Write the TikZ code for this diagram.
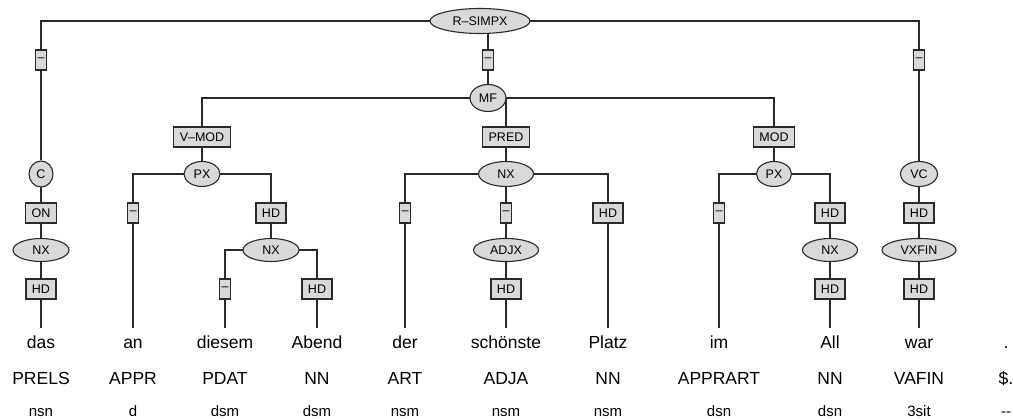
\documentclass[tikz,border=0pt]{standalone}
\usepackage{fontspec}
\setmainfont{Liberation Sans}
\usetikzlibrary{shapes.geometric, backgrounds}
\definecolor{nodegray}{HTML}{D9D9D9}
\definecolor{linegray}{HTML}{2A2A2A}

\begin{document}
\begin{tikzpicture}[x=1pt, y=-1pt,
  cat/.style={ellipse, draw=linegray, fill=nodegray, line width=1.1pt, inner sep=0pt,
    minimum height=25pt, font=\fontsize{12.5}{13}\selectfont},
  fun/.style={rectangle, draw=linegray, fill=nodegray, line width=1.1pt, inner xsep=6pt,
    inner ysep=0pt, minimum height=20pt, font=\fontsize{12.5}{13}\selectfont},
  nolab/.style={fun, inner xsep=2pt},
  word/.style={anchor=base, inner ysep=8pt, text height=12.5pt, font=\fontsize{17.5}{20}\selectfont},
  postag/.style={anchor=base, font=\fontsize{17.5}{20}\selectfont},
  morph/.style={anchor=base, font=\fontsize{15}{17}\selectfont}]
  \useasboundingbox (0,0) rectangle (1013,419);

  % Terminals
  \foreach \x/\w/\p/\m [count=\i] in {
    41/das/PRELS/nsn, 133/an/APPR/d, 225/diesem/PDAT/dsm, 317/Abend/NN/dsm,
    405/der/ART/nsm, 506/schönste/ADJA/nsm, 608/Platz/NN/nsm,
    719/im/APPRART/dsn, 830/All/NN/dsn, 919/war/VAFIN/3sit, 1006/./\$./{-}{-}} {
    \node[word] (w\i) at (\x, 349) {\w};
    \node[postag] (p\i) at (\x, 385) {\p};
    \node[morph] (m\i) at (\x, 417) {\m};
  }

  % Categories
  \node[cat, minimum width=100pt] (rsimpx) at (480, 21) {R–SIMPX};
  \node[cat, minimum width=36pt, minimum height=27pt] (mf) at (488, 98) {MF};
  \node[cat, minimum width=24pt, minimum height=26pt] (c) at (41, 174) {C};
  \node[cat, minimum width=36pt] (pxa) at (202, 174) {PX};
  \node[cat, minimum width=55pt] (nxb) at (506, 174) {NX};
  \node[cat, minimum width=35pt] (pxc) at (774, 174) {PX};
  \node[cat, minimum width=37pt] (vc) at (919, 174) {VC};
  \node[cat, minimum width=56pt, minimum height=23pt] (nxa) at (41, 250) {NX};
  \node[cat, minimum width=56pt, minimum height=23pt] (nxc) at (271, 250) {NX};
  \node[cat, minimum width=65pt, minimum height=23pt] (adjx) at (506, 250) {ADJX};
  \node[cat, minimum width=55pt, minimum height=23pt] (nxd) at (830, 250) {NX};
  \node[cat, minimum width=74pt, minimum height=23pt] (vxfin) at (919, 250) {VXFIN};

  % Edge labels
  \node[nolab] (e1) at (41, 60) {–};
  \node[nolab] (e2) at (488, 60) {–};
  \node[nolab] (e3) at (919, 60) {–};
  \node[fun] (lvmod) at (202, 137) {V–MOD};
  \node[fun] (lpred) at (506, 137) {PRED};
  \node[fun] (lmod) at (774, 137) {MOD};
  \node[fun] (lon) at (41, 213) {ON};
  \node[nolab] (la) at (133, 213) {–};
  \node[fun] (lb) at (271, 213) {HD};
  \node[nolab] (le) at (405, 213) {–};
  \node[nolab] (lf) at (506, 213) {–};
  \node[fun] (lh) at (608, 213) {HD};
  \node[nolab] (li) at (719, 213) {–};
  \node[fun] (lj) at (830, 213) {HD};
  \node[fun] (ll) at (919, 213) {HD};
  \node[fun] (lhd) at (41, 289) {HD};
  \node[nolab] (lc) at (225, 289) {–};
  \node[fun] (ld) at (317, 289) {HD};
  \node[fun] (lg) at (506, 289) {HD};
  \node[fun] (lk) at (830, 289) {HD};
  \node[fun] (lm) at (919, 289) {HD};

  % Edges
  \begin{scope}[on background layer]
    \foreach \a/\b/\c in {
      rsimpx/e1/c, rsimpx/e2/mf, rsimpx/e3/vc,
      mf/lvmod/pxa, mf/lpred/nxb, mf/lmod/pxc,
      c/lon/nxa, nxa/lhd/w1,
      pxa/la/w2, pxa/lb/nxc, nxc/lc/w3, nxc/ld/w4,
      nxb/le/w5, nxb/lf/adjx, adjx/lg/w6, nxb/lh/w7,
      pxc/li/w8, pxc/lj/nxd, nxd/lk/w9,
      vc/ll/vxfin, vxfin/lm/w10} {
      \draw[linegray, line width=1.1pt] (\a.center) -| (\b) -- (\c);
    }
  \end{scope}
\end{tikzpicture}
\end{document}
